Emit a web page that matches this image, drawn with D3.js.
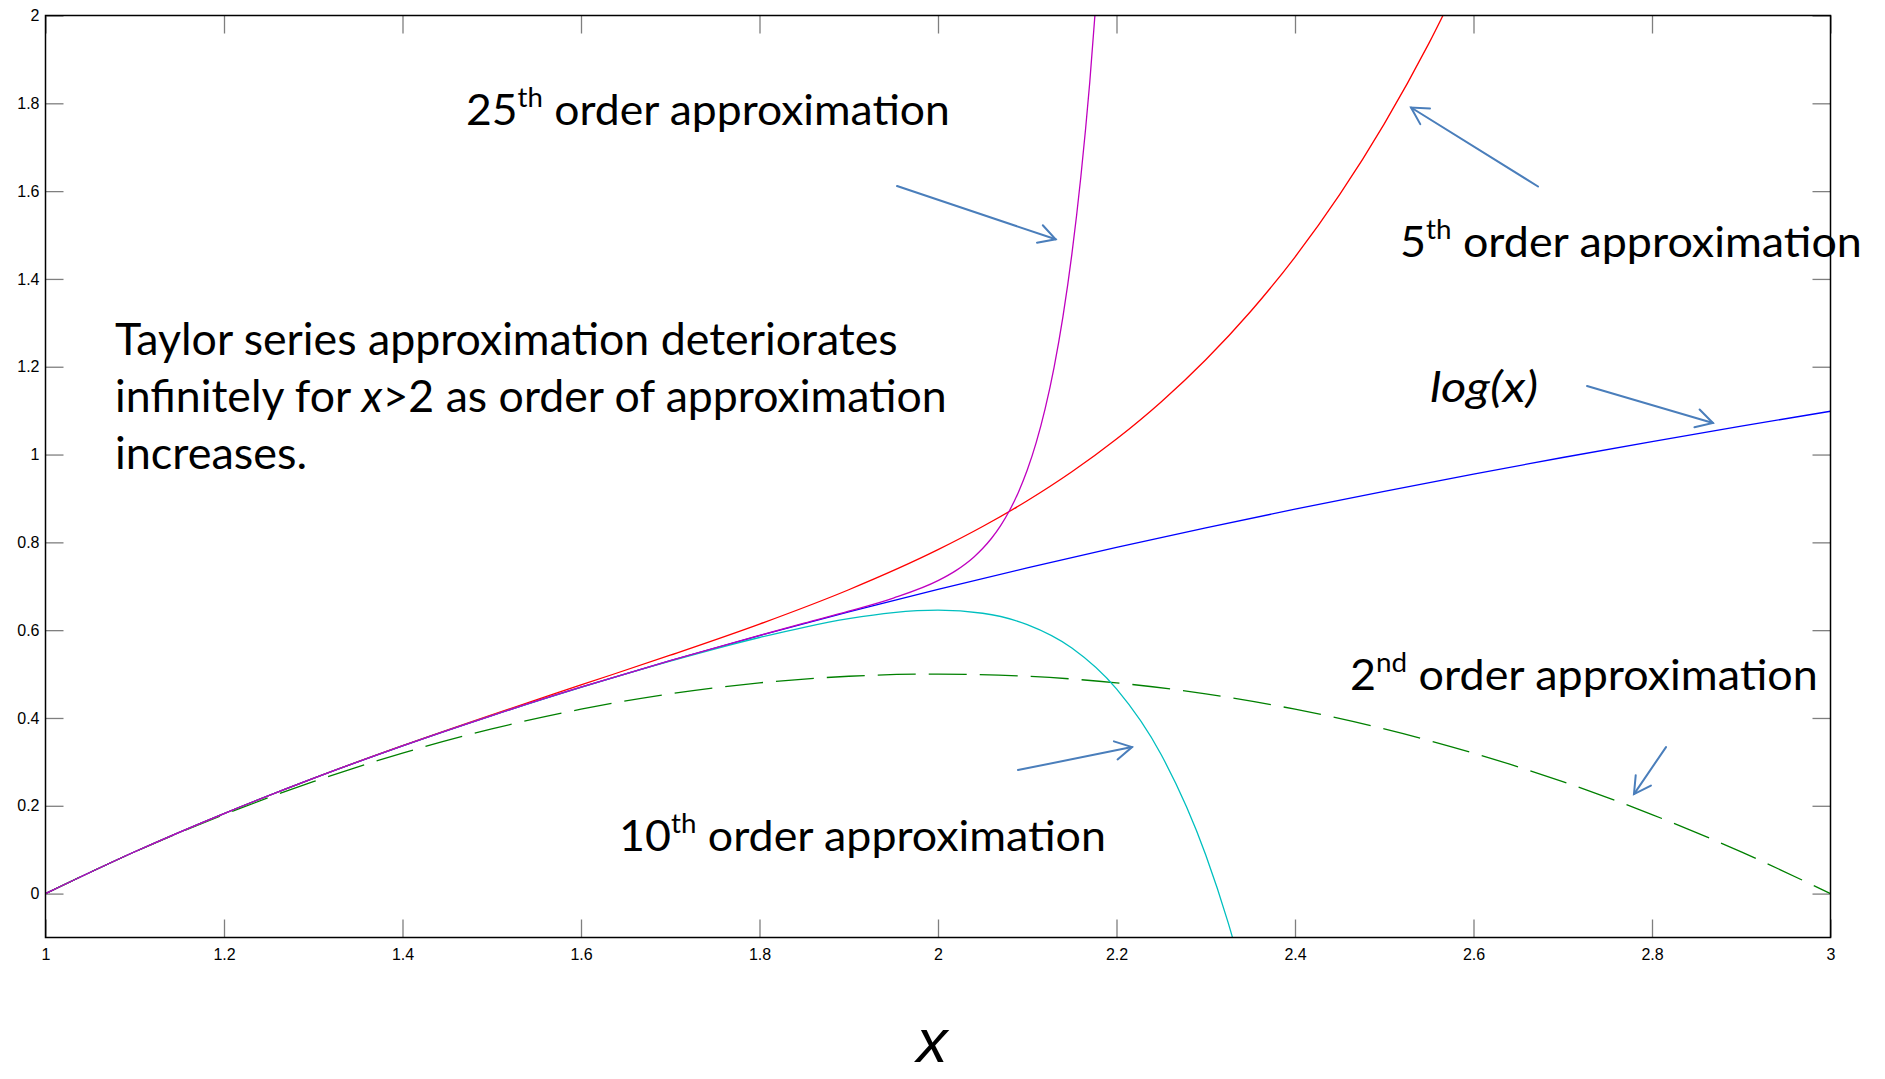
<!DOCTYPE html>
<html><head><meta charset="utf-8">
<script src="https://cdn.jsdelivr.net/npm/d3@7"></script>
<style>html,body{margin:0;padding:0;background:#fff;overflow:hidden}</style>
</head><body>
<svg id="chart" width="1885" height="1079"></svg>
<script>
// ---------------- data ----------------
const xTicks = [1, 1.2, 1.4, 1.6, 1.8, 2, 2.2, 2.4, 2.6, 2.8, 3];
const xTickLabels = ["1", "1.2", "1.4", "1.6", "1.8", "2", "2.2", "2.4", "2.6", "2.8", "3"];
const yTicks = [0, 0.2, 0.4, 0.6, 0.8, 1, 1.2, 1.4, 1.6, 1.8, 2];
const yTickLabels = ["0", "0.2", "0.4", "0.6", "0.8", "1", "1.2", "1.4", "1.6", "1.8", "2"];

const xLog = [1.0, 1.1, 1.2, 1.3, 1.4, 1.5, 1.6, 1.7, 1.8, 1.9, 2.0, 2.1, 2.2, 2.3, 2.4, 2.5, 2.6, 2.7, 2.8, 2.9, 3.0];
const logX = [0, 0.0953, 0.1823, 0.2624, 0.3365, 0.4055, 0.4700, 0.5306, 0.5878, 0.6419, 0.6931, 0.7419, 0.7885, 0.8329, 0.8755, 0.9163, 0.9555, 0.9933, 1.0296, 1.0647, 1.0986];

const x2nd = [1.0, 1.1, 1.2, 1.3, 1.4, 1.5, 1.6, 1.7, 1.8, 1.9, 2.0, 2.1, 2.2, 2.3, 2.4, 2.5, 2.6, 2.7, 2.8, 2.9, 3.0];
const order2 = [0, 0.095, 0.18, 0.255, 0.32, 0.375, 0.42, 0.455, 0.48, 0.495, 0.5, 0.495, 0.48, 0.455, 0.42, 0.375, 0.32, 0.255, 0.18, 0.095, 0];

const x5th = [1.0, 1.1, 1.2, 1.3, 1.4, 1.5, 1.6, 1.7, 1.8, 1.9, 2.0, 2.05, 2.1, 2.15, 2.2, 2.25, 2.3, 2.35, 2.4, 2.45, 2.5, 2.55, 2.6];
const order5 = [0, 0.0953, 0.1823, 0.2625, 0.3370, 0.4073, 0.4752, 0.5429, 0.6138, 0.6921, 0.7833, 0.8360, 0.8947, 0.9607, 1.0353, 1.1198, 1.2159, 1.3253, 1.4499, 1.5918, 1.7531, 1.9364, 2.1441];

const x10th = [1.0, 1.1, 1.2, 1.3, 1.4, 1.5, 1.6, 1.7, 1.8, 1.85, 1.9, 1.95, 2.0, 2.05, 2.1, 2.15, 2.2, 2.25, 2.3, 2.325, 2.34];
const order10 = [0, 0.0953, 0.1823, 0.2624, 0.3365, 0.4055, 0.4698, 0.5296, 0.5833, 0.6066, 0.6262, 0.6401, 0.6456, 0.6385, 0.6125, 0.5592, 0.4661, 0.3167, 0.0879, -0.0655, -0.1725];

const x25th = [1.0, 1.1, 1.2, 1.3, 1.4, 1.5, 1.6, 1.7, 1.8, 1.85, 1.9, 1.95, 2.0, 2.02, 2.04, 2.05, 2.06, 2.07, 2.08, 2.09, 2.1, 2.11, 2.12, 2.13, 2.14, 2.15, 2.16, 2.17, 2.18];
const order25 = [0, 0.0953, 0.1823, 0.2624, 0.3365, 0.4055, 0.4700, 0.5306, 0.5879, 0.6159, 0.6432, 0.6731, 0.7127, 0.7356, 0.7662, 0.7859, 0.8093, 0.8376, 0.8719, 0.9136, 0.9646, 1.0271, 1.1039, 1.1982, 1.3143, 1.4566, 1.6315, 1.8467, 2.111];

const seriesNames = ["log(x)", "2nd order", "5th order", "10th order", "25th order"];

// ---------------- layout ----------------
const svg = d3.select("#chart");
const L = 45.5, R = 1830.5, T = 15.5, B = 937.5;
const x = d3.scaleLinear().domain([1, 3]).range([L, R]);
const y = d3.scaleLinear().domain([-0.1, 2]).range([B, T]);

svg.append("rect").attr("width", 1885).attr("height", 1079).attr("fill", "#fff");

svg.append("defs").append("clipPath").attr("id", "plotclip")
  .append("rect").attr("x", L).attr("y", T).attr("width", R - L).attr("height", B - T);

// axes (ticks inward, gray)
const tickLen = 18;
function styleAxis(g) {
  g.select(".domain").remove();
  g.selectAll(".tick line").attr("stroke", "#7f7f7f").attr("stroke-width", 1.3);
  g.selectAll(".tick text").attr("font-family", "'Liberation Sans', Arial, sans-serif")
    .attr("font-size", 16).attr("fill", "#000");
}
svg.append("g").attr("transform", `translate(${L},0)`)
  .call(d3.axisLeft(y).tickValues(yTicks).tickFormat((d, i) => yTickLabels[i]).tickSizeInner(-tickLen).tickSizeOuter(0).tickPadding(6))
  .call(styleAxis);
svg.append("g").attr("transform", `translate(${R},0)`)
  .call(d3.axisRight(y).tickValues(yTicks).tickFormat("").tickSizeInner(-tickLen).tickSizeOuter(0))
  .call(styleAxis);
svg.append("g").attr("transform", `translate(0,${B})`)
  .call(d3.axisBottom(x).tickValues(xTicks).tickFormat((d, i) => xTickLabels[i]).tickSizeInner(-tickLen).tickSizeOuter(0).tickPadding(11))
  .call(styleAxis);
svg.append("g").attr("transform", `translate(0,${T})`)
  .call(d3.axisTop(x).tickValues(xTicks).tickFormat("").tickSizeInner(-tickLen).tickSizeOuter(0))
  .call(styleAxis);

// curves
const line = d3.line().x(d => x(d[0])).y(d => y(d[1])).curve(d3.curveMonotoneX);
const series = [
  { xs: xLog, ys: logX, color: "#0000ff", dash: null },
  { xs: x2nd, ys: order2, color: "#008000", dash: "38,13" },
  { xs: x5th, ys: order5, color: "#ff0000", dash: null },
  { xs: x10th, ys: order10, color: "#00bfbf", dash: null },
  { xs: x25th, ys: order25, color: "#bf00bf", dash: null }
];
const gLines = svg.append("g").attr("clip-path", "url(#plotclip)");
series.forEach((s, i) => {
  gLines.append("path")
    .datum(s.xs.map((v, j) => [v, s.ys[j]]))
    .attr("class", "series")
    .attr("data-name", seriesNames[i])
    .attr("d", line)
    .attr("fill", "none")
    .attr("stroke", s.color)
    .attr("stroke-width", 1.3)
    .attr("stroke-dasharray", s.dash);
});

// box
svg.append("rect").attr("x", L).attr("y", T).attr("width", R - L).attr("height", B - T)
  .attr("fill", "none").attr("stroke", "#000").attr("stroke-width", 1.5);

// ---------------- annotations ----------------
const annFont = "Lato, 'Open Sans', sans-serif";
function label(parts, dx, dy, width, fs, italic) {
  const g = svg.append("g").attr("transform", `translate(${x(dx)},${y(dy)})`);
  const t = g.append("text").attr("font-family", annFont).attr("font-size", fs)
    .attr("fill", "#000").attr("font-style", italic ? "italic" : "normal");
  let raised = false;
  parts.forEach(p => {
    const ts = t.append("tspan").text(p.t);
    if (p.sup && !raised) { ts.attr("font-size", fs * 0.62).attr("dy", -fs * 0.42); raised = true; }
    else if (!p.sup && raised) { ts.attr("dy", fs * 0.42); raised = false; }
  });
  const w = t.node().getBBox().width;
  const sx = width / w;
  t.attr("transform", `scale(${sx},1)`);
  return g;
}
function arrow(x1, y1, x2, y2) {
  const X1 = x(x1), Y1 = y(y1), X2 = x(x2), Y2 = y(y2);
  const a = Math.atan2(Y1 - Y2, X1 - X2);
  const len = 19, sp = 29 * Math.PI / 180;
  const g = svg.append("g").attr("stroke", "#4a7ebb").attr("stroke-width", 2).attr("fill", "none").attr("stroke-linecap", "round");
  g.append("line").attr("x1", X1).attr("y1", Y1).attr("x2", X2).attr("y2", Y2);
  g.append("path").attr("d",
    `M${X2 + len * Math.cos(a + sp)},${Y2 + len * Math.sin(a + sp)} L${X2},${Y2} L${X2 + len * Math.cos(a - sp)},${Y2 + len * Math.sin(a - sp)}`);
}

label([{ t: "25" }, { t: "th", sup: true }, { t: " order approximation" }], 1.4711, 1.7506, 484, 42);
arrow(1.9541, 1.6116, 2.1318, 1.4904);

label([{ t: "5" }, { t: "th", sup: true }, { t: " order approximation" }], 2.5176, 1.4499, 462, 42);
arrow(2.6723, 1.6105, 2.5300, 1.7904);

label([{ t: "log(x)" }], 2.5513, 1.1196, 108, 42, true);
arrow(2.7272, 1.1560, 2.8683, 1.0718);

label([{ t: "2" }, { t: "nd", sup: true }, { t: " order approximation" }], 2.4616, 0.4636, 468, 42);
arrow(2.8157, 0.3337, 2.7798, 0.2267);

label([{ t: "10" }, { t: "th", sup: true }, { t: " order approximation" }], 1.6426, 0.0968, 487, 42);
arrow(2.0896, 0.2813, 2.2174, 0.3337);

// multi-line note
const noteFs = 44;
const note = [
  { parts: [{ t: "Taylor series approximation deteriorates" }], y: 1.2267, w: 783 },
  { parts: [{ t: "infinitely for " }, { t: "x", it: true }, { t: ">2 as order of approximation" }], y: 1.0968, w: 832 },
  { parts: [{ t: "increases." }], y: 0.9670, w: 192 }
];
note.forEach(n => {
  const g = svg.append("g").attr("transform", `translate(${x(1.0779)},${y(n.y)})`);
  const t = g.append("text").attr("font-family", annFont).attr("font-size", noteFs).attr("fill", "#000");
  n.parts.forEach(p => t.append("tspan").text(p.t).attr("font-style", p.it ? "italic" : null));
  const w = t.node().getBBox().width;
  t.attr("transform", `scale(${n.w / w},1)`);
});

// x axis label
svg.append("text").attr("x", 932).attr("y", 1062)
  .attr("text-anchor", "middle").attr("font-family", "'Liberation Sans', Arial, sans-serif")
  .attr("font-style", "italic").attr("font-size", 62).attr("fill", "#000").text("x");
</script>
</body></html>
